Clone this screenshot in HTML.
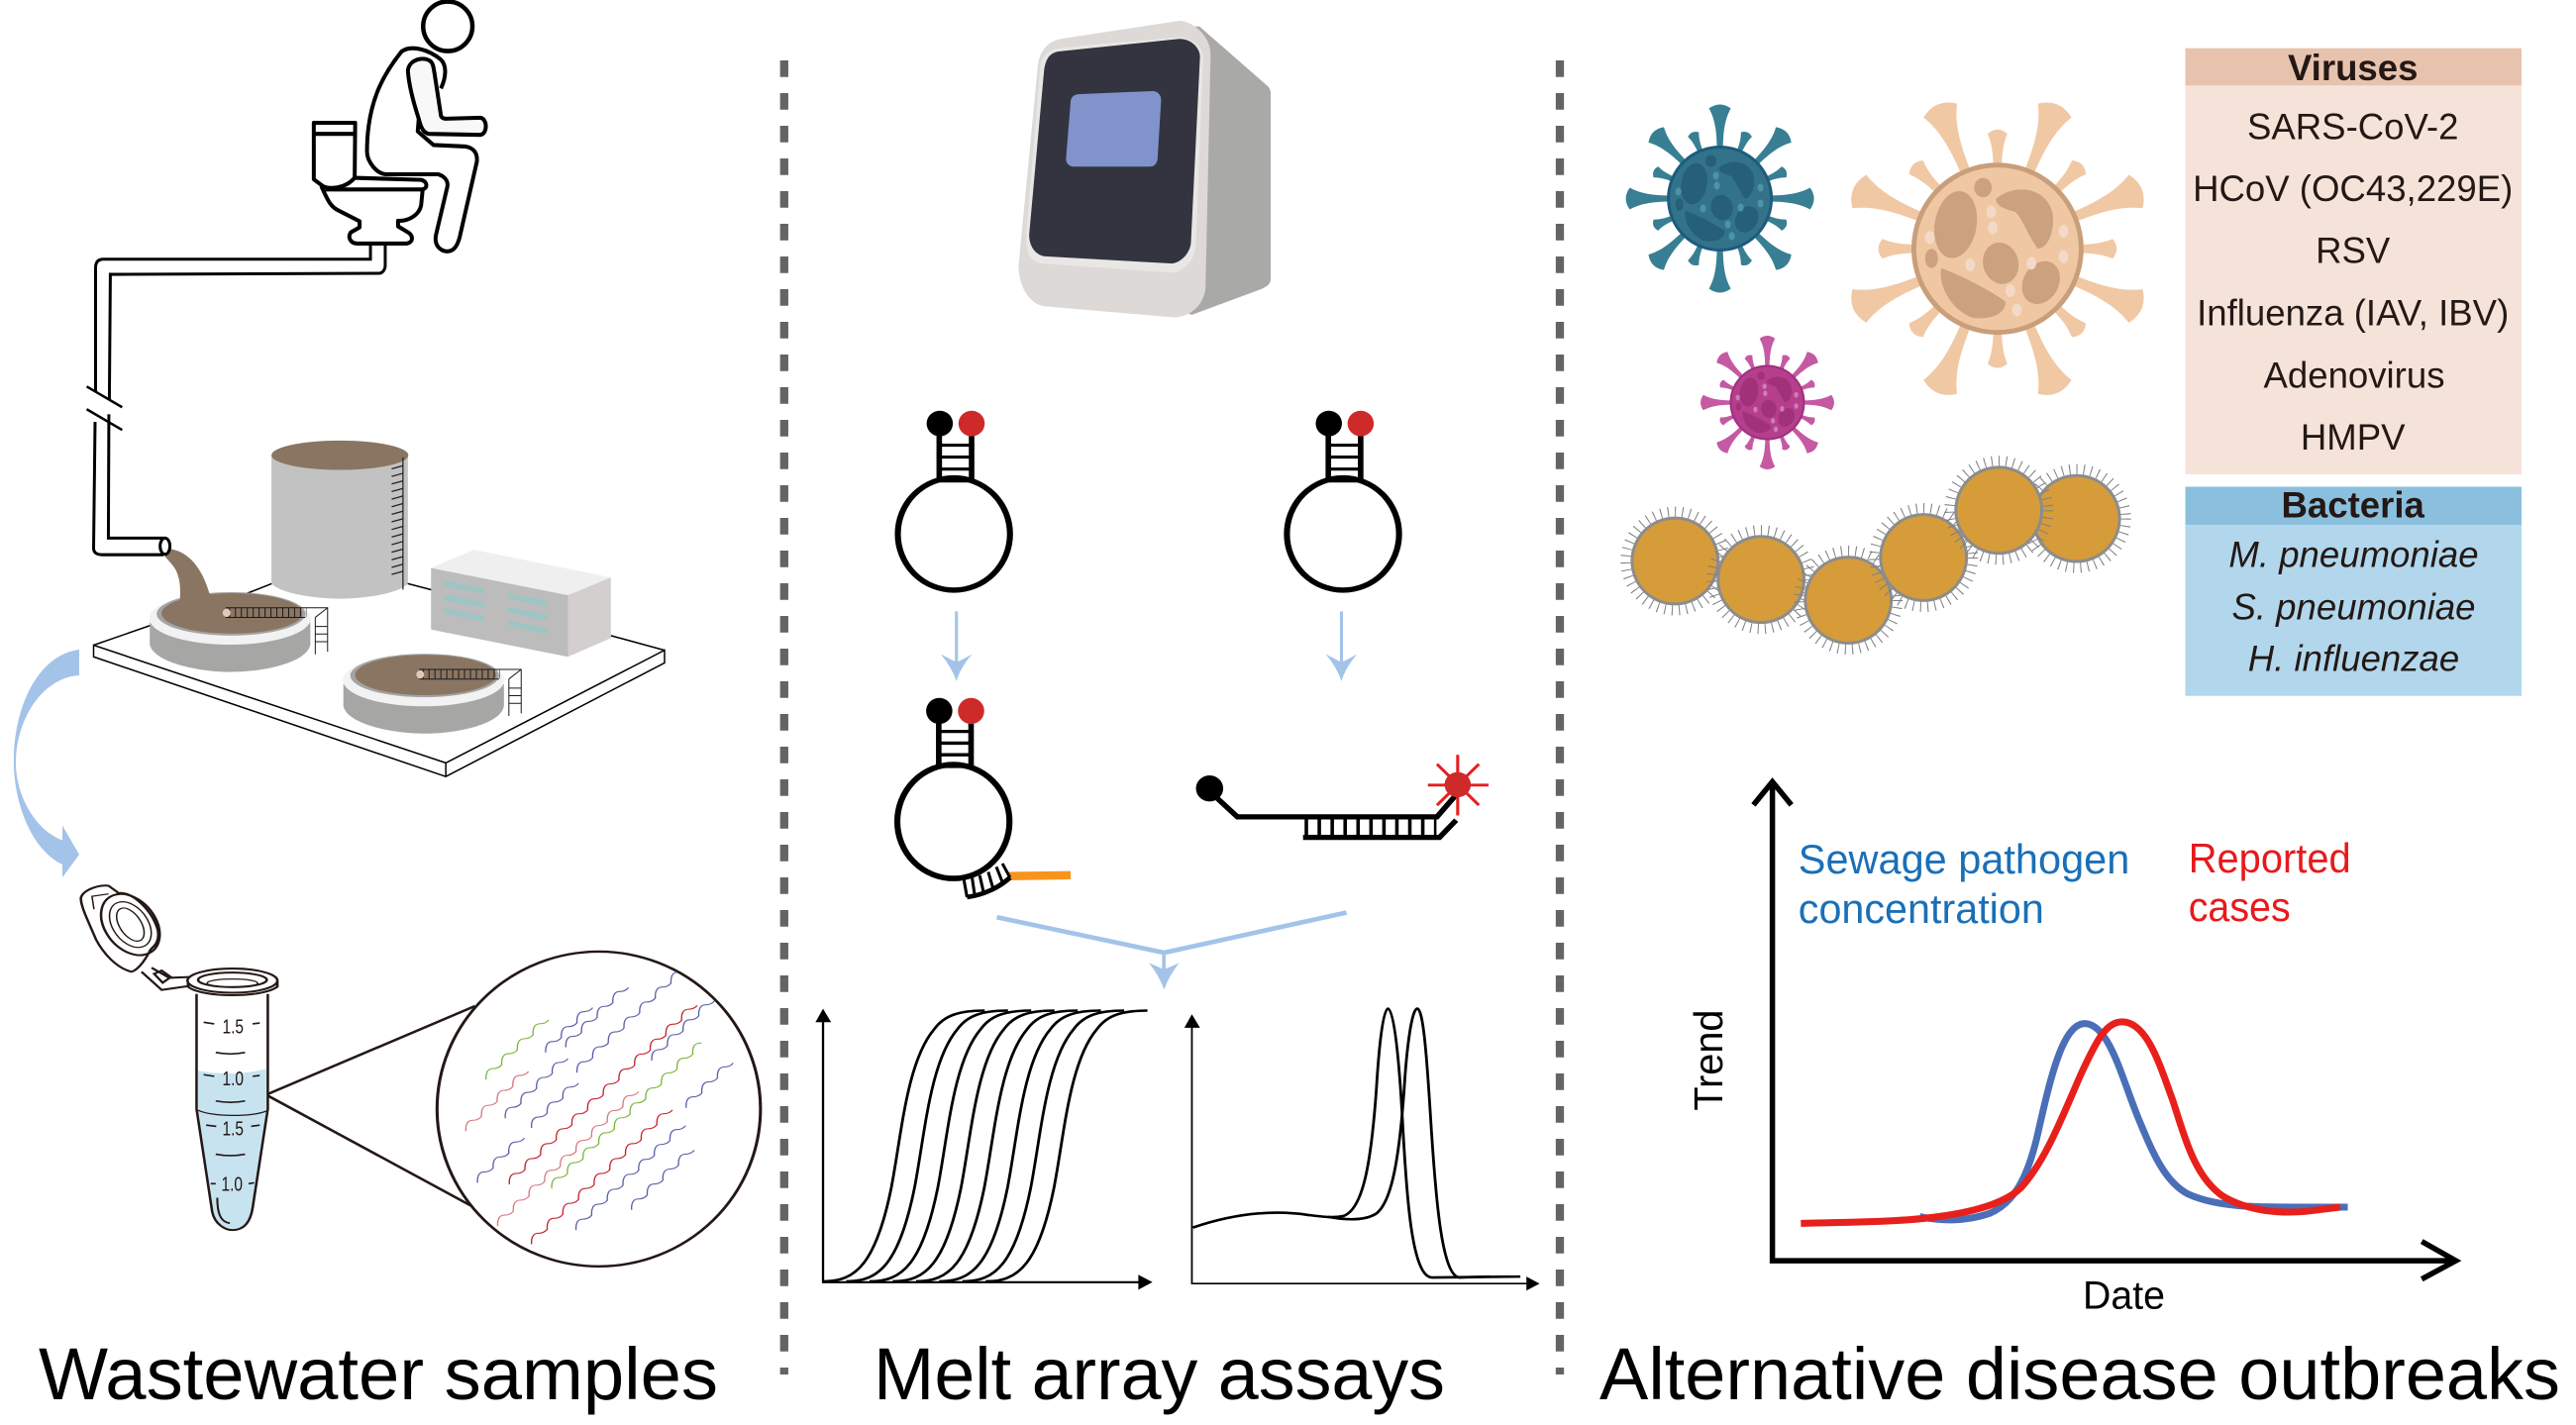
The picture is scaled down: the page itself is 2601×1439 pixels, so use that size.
<!DOCTYPE html>
<html><head><meta charset="utf-8"><style>
html,body{margin:0;padding:0;background:#fff}
svg{display:block}
text{font-family:"Liberation Sans",sans-serif}
</style></head><body>
<svg xmlns="http://www.w3.org/2000/svg" width="2601" height="1439" viewBox="0 0 2601 1439">
<defs>
<path id="sl" d="M-3,-46C-3,-68-5,-80-11,-91Q0,-99 11,-91C5,-80 3,-68 3,-46Z"/>
<path id="ss" d="M-2.5,-46C-2.5,-58-3.5,-64-6,-70Q0,-75 6,-70C3.5,-64 2.5,-58 2.5,-46Z"/>
<g id="spikes">
<use href="#sl"/><use href="#sl" transform="rotate(45)"/><use href="#sl" transform="rotate(90)"/><use href="#sl" transform="rotate(135)"/><use href="#sl" transform="rotate(180)"/><use href="#sl" transform="rotate(225)"/><use href="#sl" transform="rotate(270)"/><use href="#sl" transform="rotate(315)"/>
<use href="#ss" transform="rotate(22.5)"/><use href="#ss" transform="rotate(67.5)"/><use href="#ss" transform="rotate(112.5)"/><use href="#ss" transform="rotate(157.5)"/><use href="#ss" transform="rotate(202.5)"/><use href="#ss" transform="rotate(247.5)"/><use href="#ss" transform="rotate(292.5)"/><use href="#ss" transform="rotate(337.5)"/>
</g>
<g id="blobs">
<ellipse cx="-26" cy="-15" rx="13" ry="21" transform="rotate(10 -26 -15)"/>
<path d="M-1,-31C11,-41 30,-38 34,-23C36,-13 32,0 25,0C18,-10 16,-18 11,-23C3,-25-1,-27-1,-31Z"/>
<ellipse cx="2" cy="9" rx="11" ry="13" transform="rotate(-15 2 9)"/>
<path d="M-35,12C-21,17-1,28 5,33C5,41-5,44-15,43C-27,39-37,25-35,12Z"/>
<ellipse cx="27" cy="21" rx="11" ry="14" transform="rotate(30 27 21)"/>
<ellipse cx="-9" cy="-38" rx="5.5" ry="6"/>
<ellipse cx="-41" cy="6" rx="4" ry="6"/>
</g>
<g id="spots">
<ellipse cx="-4" cy="-23" rx="3" ry="4"/><ellipse cx="-3" cy="-13" rx="3" ry="4"/><ellipse cx="-42" cy="-7" rx="3" ry="4"/><ellipse cx="41" cy="-11" rx="3" ry="4"/><ellipse cx="41" cy="5" rx="3" ry="4"/><ellipse cx="21" cy="9" rx="3" ry="4"/><ellipse cx="-17" cy="10" rx="3" ry="4"/><ellipse cx="8" cy="26" rx="3" ry="4"/><ellipse cx="12" cy="38" rx="3" ry="4"/>
</g>
<g id="pool">
<path d="M304,1232L304,1275C310,1310 400,1330 467,1330C540,1330 625,1310 630,1275L630,1232Z" fill="#a6a6a5"/>
<ellipse cx="467" cy="1224" rx="164" ry="52" fill="#f2f2f2"/>
<ellipse cx="469" cy="1215" rx="151" ry="43" fill="#a3a3a3"/>
<ellipse cx="471" cy="1214" rx="143" ry="40" fill="#8a7562"/>
<line x1="465" y1="1212" x2="622" y2="1212" stroke="#1a1a1a" stroke-width="18" stroke-dasharray="2 10"/>
<path d="M458,1203H665V1290M458,1222H620M640,1222L665,1203M640,1222V1295M640,1240H665M640,1255H665M640,1270H665" fill="none" stroke="#1a1a1a" stroke-width="2"/>
<circle cx="460" cy="1213" r="8" fill="#e0c9b8"/>
</g>
<path id="w" pathLength="12" fill="none" d="M0,0c-1,-14 2,-26 12,-27c8,0 15,-3 19,-10c-1,-14 2,-26 12,-27c8,0 15,-3 19,-10c-1,-14 2,-26 12,-27c8,0 15,-3 19,-10c-1,-14 2,-26 12,-27c8,0 15,-3 19,-10c-1,-14 2,-26 12,-27c8,0 15,-3 19,-10c-1,-14 2,-26 12,-27c8,0 15,-3 19,-10c-1,-14 2,-26 12,-27c8,0 15,-3 19,-10c-1,-14 2,-26 12,-27c8,0 15,-3 19,-10c-1,-14 2,-26 12,-27c8,0 15,-3 19,-10c-1,-14 2,-26 12,-27c8,0 15,-3 19,-10c-1,-14 2,-26 12,-27c8,0 15,-3 19,-10c-1,-14 2,-26 12,-27c8,0 15,-3 19,-10"/>
<path id="sig" fill="none" stroke="#000" stroke-width="5.5" d="M100,1260C165,1262 205,1220 235,1060C255,950 265,790 320,720C340,690 370,680 420,680"/>
<g id="hb">
<circle r="49" fill="none" stroke="#808080" stroke-width="12" stroke-dasharray="1 6.2"/>
<circle r="43.4" fill="#d69c3a" stroke="#8c8c8c" stroke-width="3"/>
</g>
</defs>

<!-- dashed separators -->
<line x1="791.8" y1="61" x2="791.8" y2="1388" stroke="#646464" stroke-width="8.3" stroke-dasharray="16.7 16.3"/>
<line x1="1575" y1="61" x2="1575" y2="1388" stroke="#646464" stroke-width="8.3" stroke-dasharray="16.7 16.3"/>

<!-- Panel A -->
<g transform="scale(.4974 .5102)">
<!-- platform -->
<g fill="none" stroke="#000" stroke-width="3">
<path d="M190,1277L905,1510L1349,1287V1312L905,1537L190,1300Z" fill="#fff"/>
<path d="M905,1510V1537M190,1277L305,1238M500,1175L552,1155M827,1155L878,1168M1240,1258L1349,1287"/>
</g>
<!-- tank -->
<path d="M551,901L551,1155C570,1175 640,1185 690,1185C740,1185 810,1175 828,1155L828,901Z" fill="#c2c2c2"/>
<ellipse cx="690" cy="901" rx="139" ry="29" fill="#8a7562"/>
<path d="M818,905V1167M795,928l22,-6M795,943l22,-6M795,958l22,-6M795,973l22,-6M795,988l22,-6M795,1003l22,-6M795,1018l22,-6M795,1033l22,-6M795,1048l22,-6M795,1063l22,-6M795,1078l22,-6M795,1093l22,-6M795,1108l22,-6M795,1123l22,-6M795,1137l22,-6" stroke="#222" stroke-width="2.5" fill="none"/>
<!-- building -->
<polygon points="875,1124 1153,1178 1153,1300 875,1246" fill="#bcbcbc"/>
<polygon points="875,1124 962,1088 1240,1143 1153,1178" fill="#efefef"/>
<polygon points="1153,1178 1240,1143 1240,1263 1153,1300" fill="#d3cfce"/>
<path d="M902,1155L982,1170M902,1182L982,1197M902,1208L982,1225M1032,1180L1112,1195M1032,1207L1112,1222M1032,1233L1112,1250" stroke="#9cc5c5" stroke-width="10" fill="none"/>
<!-- pools -->
<use href="#pool"/>
<use href="#pool" transform="translate(393 122)"/>
<path d="M328,1088C345,1083 400,1085 427,1180L427,1195L365,1200C365,1180 370,1150 355,1125C345,1110 330,1100 328,1088Z" fill="#8a7562"/>
<!-- pipe -->
<g fill="none" stroke="#000" stroke-width="6">
<path d="M752,485V513H210C198,513 194,520 194,530V775"/>
<path d="M782,485V525C782,535 775,541 770,541L224,543L222,790"/>
<path d="M193,835L190,1085C190,1095 198,1098 208,1098H332"/>
<path d="M221,820L220,1065H335"/>
<ellipse cx="335" cy="1081" rx="10" ry="16" fill="#fff"/>
<path d="M176,765L248,806M176,810L248,851" stroke-width="5"/>
</g>
<!-- person and toilet -->
<g fill="none" stroke="#000" stroke-width="8" stroke-linejoin="round">
<ellipse cx="909" cy="52" rx="50" ry="49" fill="#fff" stroke-width="9"/>
<path d="M895,175C905,155 908,130 895,118C870,98 835,88 815,102C780,145 745,200 745,300C745,320 765,345 785,345L890,345C905,350 910,360 908,370L885,465C880,490 900,500 912,497C925,495 930,480 933,470L968,320C970,300 958,292 945,290L880,287L848,260L850,235" fill="#fff"/>
<path d="M828,140C830,118 860,110 875,122C880,128 880,135 882,145L895,228C895,232 900,235 905,235L975,233C990,235 990,265 975,267L870,265C860,262 855,255 850,235C840,205 830,170 828,140Z" fill="#f8f8f8"/>
<path d="M652,368C665,395 670,410 690,418L730,438V450L712,460C705,470 712,482 725,482H825C840,480 840,465 825,458L808,448V437C830,438 852,425 855,405L858,375" fill="#fff"/>
<path d="M718,352L855,356C870,360 868,375 855,375L660,375" fill="#fff"/>
<path d="M637,243H721L720,352C700,375 665,375 655,368L637,355Z" fill="#fff"/>
<path d="M637,265H721"/>
</g>
</g>

<!-- curved blue arrow -->
<path d="M80,656C44.5,660 17,702 14,761C12,806 30,857 63,873L63,886L80,863L63,833.6L63,848.5C35,838 15,802 16,767C18,722 45,684 80,682Z" fill="#a4c3e9"/>

<!-- Tube panel -->
<g transform="translate(0 800) scale(.5102 .4075)">
<path d="M392,690C430,700 490,700 527,685V790L505,985L500,1030C495,1070 480,1085 460,1085C445,1085 425,1070 420,1040L392,790Z" fill="#c7e3f0"/>
<g fill="none" stroke="#231815" stroke-width="5">
<path d="M389,500V785L420,1040C425,1070 445,1085 460,1085C480,1085 495,1070 500,1030L530,785V500"/>
<path d="M392,788C420,805 500,805 527,790" stroke-width="3"/>
<path d="M403,570L424,574M500,574L514,572M427,645Q456,652 485,645M403,700L424,704M500,704L514,702M427,765Q456,772 485,765M408,825L428,828M497,828L514,825M427,897Q456,904 485,897M417,970H427M492,970L503,968M430,1005C430,1040 435,1065 455,1068" stroke-width="4"/>
<path d="M372,470V482C400,510 520,510 549,482V470" fill="#fff"/>
<ellipse cx="460" cy="467" rx="89" ry="30" fill="#fff"/>
<ellipse cx="460" cy="465" rx="68" ry="18"/>
<ellipse cx="460" cy="473" rx="50" ry="10" stroke-width="3"/>
<path d="M280,445L320,490L375,480M300,435L335,460L375,458M305,450L320,442L338,458L322,472Z" fill="#fff"/>
<path d="M160,262C165,240 200,228 215,232L235,250C260,245 300,290 312,340C318,375 300,385 298,390C290,410 275,440 260,445C230,435 205,400 190,365C175,320 160,285 160,262Z" fill="#fff"/>
<ellipse cx="258" cy="328" rx="52" ry="80" transform="rotate(-25 258 328)"/>
<ellipse cx="258" cy="328" rx="36" ry="60" transform="rotate(-25 258 328)" stroke-width="3"/>
<ellipse cx="258" cy="328" rx="22" ry="44" transform="rotate(-25 258 328)" stroke-width="3"/>
<path d="M186,290L182,258L215,252" stroke-width="3"/>
</g>
<path d="M530,748L940,530M530,752L940,1030" stroke="#231815" stroke-width="6" fill="none"/>
<ellipse cx="1185" cy="785" rx="320" ry="390" fill="#fff" stroke="#231815" stroke-width="6"/>
<g stroke-width="2.6">
<use href="#w" transform="translate(962 712)" stroke="#7bb63b" stroke-dasharray="4 99"/>
<use href="#w" transform="translate(1080 645)" stroke="#5a5ea8" stroke-dasharray="3 99"/>
<use href="#w" transform="translate(1120 632)" stroke="#5a5ea8" stroke-dasharray="4 99"/>
<use href="#w" transform="translate(1000 808)" stroke="#5a5ea8" stroke-dasharray="4 99"/>
<use href="#w" transform="translate(1142 695)" stroke="#5a5ea8" stroke-dasharray="6.6 99"/>
<use href="#w" transform="translate(922 840)" stroke="#d9777e" stroke-dasharray="4 99"/>
<use href="#w" transform="translate(1052 832)" stroke="#5a5ea8" stroke-dasharray="3 99"/>
<use href="#w" transform="translate(945 968)" stroke="#5a5ea8" stroke-dasharray="3 99"/>
<use href="#w" transform="translate(1008 972)" stroke="#c3202c" stroke-dasharray="12 99"/>
<use href="#w" transform="translate(1290 665)" stroke="#5a5ea8" stroke-dasharray="4 99"/>
<use href="#w" transform="translate(985 1075)" stroke="#d9777e" stroke-dasharray="9 99"/>
<use href="#w" transform="translate(1092 982)" stroke="#7bb63b" stroke-dasharray="9.7 99"/>
<use href="#w" transform="translate(1052 1120)" stroke="#c3202c" stroke-dasharray="9 99"/>
<use href="#w" transform="translate(1140 1085)" stroke="#5a5ea8" stroke-dasharray="7 99"/>
<use href="#w" transform="translate(1250 1035)" stroke="#5a5ea8" stroke-dasharray="4 99"/>
<use href="#w" transform="translate(1358 782)" stroke="#5a5ea8" stroke-dasharray="3 99"/>
</g>
</g>
<g fill="#231815" font-size="20">
<text x="224.5" y="1043.3" textLength="21.5" lengthAdjust="spacingAndGlyphs">1.5</text>
<text x="224.5" y="1095.8" textLength="21.5" lengthAdjust="spacingAndGlyphs">1.0</text>
<text x="224.5" y="1146.4" textLength="21.5" lengthAdjust="spacingAndGlyphs">1.5</text>
<text x="223.5" y="1202.6" textLength="21.5" lengthAdjust="spacingAndGlyphs">1.0</text>
</g>

<!-- Machine and upper hairpins -->
<g transform="translate(780 0) scale(.5102 .4464)">
<path d="M845,60L980,195C985,200 987,210 986,215V630C986,645 975,650 965,655L830,712L800,700L830,60Z" fill="#a9a9a7"/>
<path d="M575,87L805,47C830,47 868,80 867,125L857,650C855,690 825,718 795,718L540,693C510,690 487,650 487,600L525,150C528,115 545,92 575,87Z" fill="#dcd9d6"/>
<path d="M570,108L805,84C835,86 852,110 852,130L838,555C836,590 812,617 790,617L530,596C510,590 500,570 502,530L530,150C532,130 545,112 570,108Z" fill="#e8e7e5"/>
<path d="M570,116L805,88C830,88 847,110 846,130L828,550C826,575 805,597 788,596L540,580C520,578 507,555 508,530L537,165C540,130 550,118 570,116Z" fill="#343440"/>
<path d="M605,213L752,206C762,206 770,215 769,228L762,360C760,372 755,377 745,377L597,377C585,377 580,367 581,357L590,230C590,220 597,214 605,213Z" fill="#8093ca"/>
<g id="hp1">
<ellipse cx="359" cy="1208" rx="111" ry="127" fill="#fff" stroke="#000" stroke-width="12"/>
<path d="M330,985V1088M394,985V1088" stroke="#000" stroke-width="11"/>
<path d="M330,1007H394M330,1034H394M330,1061H394M330,1088H394" stroke="#000" stroke-width="7"/>
<ellipse cx="331" cy="958" rx="26" ry="29" fill="#000"/>
<ellipse cx="394" cy="958" rx="26" ry="29" fill="#ce2a2a"/>
</g>
<use href="#hp1" transform="translate(770 0)"/>
<g fill="#a4c3e9">
<rect x="361" y="1383" width="6" height="120"/>
<path d="M333,1480Q350,1490 364,1498Q380,1490 395,1480Q372,1510 364,1541Q355,1510 333,1480Z"/>
<rect x="1123" y="1383" width="6" height="120"/>
<path d="M1095,1480Q1112,1490 1126,1498Q1142,1490 1157,1480Q1134,1510 1126,1541Q1117,1510 1095,1480Z"/>
</g>
</g>

<!-- lower hairpin, duplex, plots -->
<g transform="translate(780 700) scale(.5102 .4713)">
<ellipse cx="358" cy="275" rx="111" ry="122" fill="#fff" stroke="#000" stroke-width="12"/>
<path d="M329,65V158M393,65V158" stroke="#000" stroke-width="11"/>
<path d="M329,82H393M329,107H393M329,132H393M329,157H393" stroke="#000" stroke-width="7"/>
<ellipse cx="330" cy="38" rx="26" ry="28" fill="#000"/>
<ellipse cx="393" cy="38" rx="26" ry="28" fill="#ce2a2a"/>
<path d="M465,392L590,390" stroke="#f7941d" stroke-width="18"/>
<path d="M385,437C420,432 450,415 470,395" fill="none" stroke="#000" stroke-width="10"/>
<path d="M378,395L385,437M395,395L400,432M410,390L418,428M427,383L437,420M443,372L455,405M455,365L470,395" stroke="#000" stroke-width="6"/>
<ellipse cx="865" cy="204" rx="27" ry="28" fill="#000"/>
<path d="M880,225L920,265L1315,265L1355,215" fill="none" stroke="#000" stroke-width="11"/>
<path d="M1050,309H1320L1353,272" fill="none" stroke="#000" stroke-width="11"/>
<line x1="1053" y1="287" x2="1314" y2="287" stroke="#000" stroke-width="34" stroke-dasharray="7 18.6"/>
<path d="M1356,132V262M1297,197H1417M1315,152L1398,240M1398,152L1315,240" stroke="#e61e1e" stroke-width="6"/>
<ellipse cx="1356" cy="196" rx="26" ry="27" fill="#ce2a2a"/>
<path d="M444,480L775,556L1136,470" fill="none" stroke="#a4c3e9" stroke-width="10"/>
<rect x="771" y="556" width="7" height="40" fill="#a4c3e9"/>
<path d="M745,578Q760,585 775,592Q790,585 805,578Q785,605 775,635Q765,605 745,578Z" fill="#a4c3e9"/>
<path d="M100,700V1262M98,1262H730" stroke="#000" stroke-width="4.5" fill="none"/>
<polygon points="85,705 116,705 100,676" fill="#000"/>
<polygon points="724,1246 724,1278 752,1262" fill="#000"/>
<use href="#sig"/><use href="#sig" x="46"/><use href="#sig" x="92"/><use href="#sig" x="138"/><use href="#sig" x="184"/><use href="#sig" x="230"/><use href="#sig" x="276"/><use href="#sig" x="322"/>
<path d="M830,715V1265H1495" stroke="#000" stroke-width="3.5" fill="none"/>
<polygon points="815,717 846,717 830,688" fill="#000"/>
<polygon points="1492,1250 1492,1280 1518,1265" fill="#000"/>
<g fill="none" stroke="#000" stroke-width="5.5">
<path d="M832,1145C900,1120 980,1105 1060,1118C1090,1122 1110,1125 1130,1120C1170,1105 1185,1000 1195,850C1200,760 1208,676 1218,676C1230,676 1240,780 1247,920C1255,1080 1265,1250 1305,1252L1480,1250"/>
<path d="M1100,1122C1130,1128 1170,1132 1195,1115C1225,1090 1240,1000 1250,850C1255,760 1265,676 1276,676C1288,676 1295,780 1303,920C1313,1090 1325,1250 1360,1252L1420,1250"/>
</g>
</g>

<!-- Viruses -->
<g transform="translate(1736.6 200.5)">
<use href="#spikes" fill="#387f94"/>
<circle r="52" fill="#33738a" stroke="#1e5b7d" stroke-width="3"/>
<use href="#blobs" fill="#255f78"/><use href="#spots" fill="#4d93a8"/>
</g>
<g transform="translate(2016.9 251.2) rotate(22.5) scale(1.66)">
<use href="#spikes" fill="#f1c8a4"/>
</g>
<g transform="translate(2016.9 251.2) scale(1.625)">
<circle r="52" fill="#efc8a3" stroke="#c99e7b" stroke-width="3"/>
<use href="#blobs" fill="#cca180"/><use href="#spots" fill="#f3dac8"/>
</g>
<g transform="translate(1784.5 406.5) scale(.71)">
<use href="#spikes" fill="#c45aa2"/>
<circle r="52" fill="#b63f8d" stroke="#a03080" stroke-width="3"/>
<use href="#blobs" fill="#a0327a"/><use href="#spots" fill="#d27cb5"/>
</g>

<!-- Bacteria -->
<use href="#hb" transform="translate(1691.3 566.5)"/>
<use href="#hb" transform="translate(1778.1 585.2)"/>
<use href="#hb" transform="translate(1866.2 606)"/>
<use href="#hb" transform="translate(1942.2 563)"/>
<use href="#hb" transform="translate(2096.7 523.6)"/>
<use href="#hb" transform="translate(2018.2 515.3)"/>

<!-- Tables -->
<rect x="2206.5" y="48.7" width="339.5" height="37.7" fill="#e7c3ae"/>
<rect x="2206.5" y="86.4" width="339.5" height="392.5" fill="#f5e3d9"/>
<rect x="2206.5" y="491.5" width="339.5" height="38.5" fill="#8ac0de"/>
<rect x="2206.5" y="530" width="339.5" height="172.7" fill="#b2d7ec"/>
<g fill="#231815" text-anchor="middle" font-size="36.6">
<text x="2375.7" y="81.2" font-weight="bold">Viruses</text>
<text x="2375.7" y="140.6">SARS-CoV-2</text>
<text x="2375.7" y="203">HCoV (OC43,229E)</text>
<text x="2375.7" y="265.5">RSV</text>
<text x="2375.7" y="328.4">Influenza (IAV, IBV)</text>
<text x="2377" y="391.3">Adenovirus</text>
<text x="2375.7" y="454.2">HMPV</text>
<text x="2375.7" y="522.7" font-weight="bold">Bacteria</text>
<text x="2376.5" y="572.6" font-style="italic">M. pneumoniae</text>
<text x="2376.5" y="625.5" font-style="italic">S. pneumoniae</text>
<text x="2376.5" y="677.5" font-style="italic">H. influenzae</text>
</g>

<!-- Trend graph -->
<g transform="translate(1600 760) scale(.6384 .433)">
<path d="M297,68V1185H1378M267,122L297,68L327,122M1324,1140L1378,1185L1324,1228" fill="none" stroke="#000" stroke-width="5.5" vector-effect="non-scaling-stroke"/>
<path d="M530,1082C560,1092 600,1095 640,1075C680,1050 700,990 715,900C735,770 755,630 792,632C830,635 850,760 875,850C895,920 915,1000 955,1030C1000,1060 1060,1060 1120,1060L1207,1060" fill="none" stroke="#4a6fb8" stroke-width="7" vector-effect="non-scaling-stroke"/>
<path d="M342,1098C420,1095 500,1095 560,1082C620,1070 665,1050 690,1015C730,950 755,850 785,750C810,670 825,628 850,628C890,628 910,730 930,810C950,900 965,990 1010,1035C1050,1070 1100,1075 1140,1070L1195,1060" fill="none" stroke="#e8201c" stroke-width="7" vector-effect="non-scaling-stroke"/>
</g>
<g font-size="41.5">
<text x="1815.8" y="882" fill="#1a6fb8" textLength="334.5" lengthAdjust="spacingAndGlyphs">Sewage pathogen</text>
<text x="1815.8" y="932" fill="#1a6fb8" textLength="248" lengthAdjust="spacingAndGlyphs">concentration</text>
<text x="2209.7" y="881" fill="#e8191c" textLength="164" lengthAdjust="spacingAndGlyphs">Reported</text>
<text x="2209.7" y="930" fill="#e8191c" textLength="103" lengthAdjust="spacingAndGlyphs">cases</text>
</g>
<text transform="translate(1739 1121.6) rotate(-90)" font-size="41" textLength="102" lengthAdjust="spacingAndGlyphs" fill="#000">Trend</text>
<text x="2103" y="1321.6" font-size="40" textLength="83" lengthAdjust="spacingAndGlyphs" fill="#000">Date</text>

<!-- Titles -->
<g font-size="74" fill="#000">
<text x="39" y="1413" textLength="686" lengthAdjust="spacingAndGlyphs">Wastewater samples</text>
<text x="882" y="1413" textLength="577" lengthAdjust="spacingAndGlyphs">Melt array assays</text>
<text x="1615" y="1413" textLength="970" lengthAdjust="spacingAndGlyphs">Alternative disease outbreaks</text>
</g>
</svg>
</body></html>
